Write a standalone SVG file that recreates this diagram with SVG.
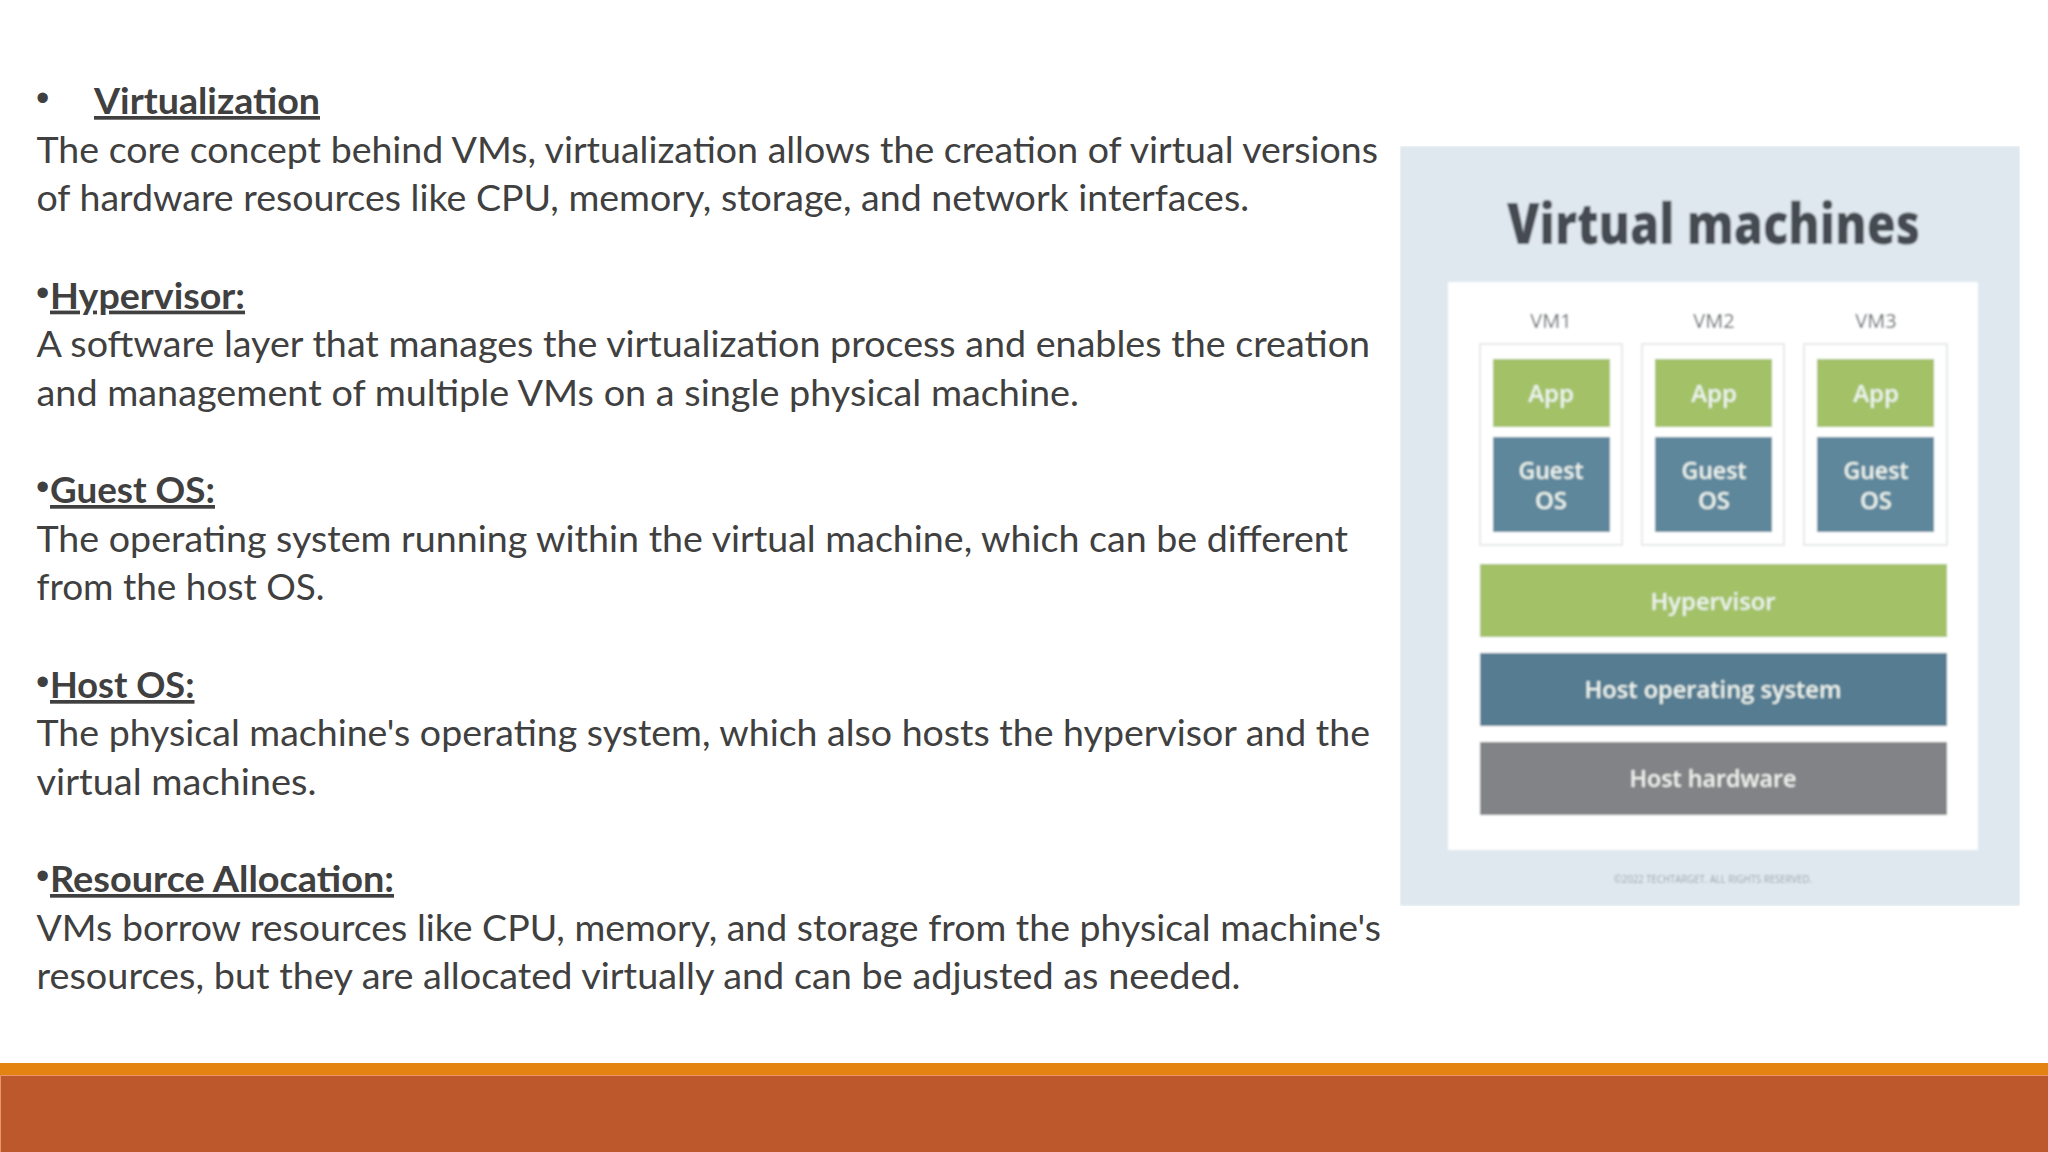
<svg xmlns="http://www.w3.org/2000/svg" width="2048" height="1152" viewBox="0 0 2048 1152">
<style>
.t{font-family:Lato,"Liberation Sans",sans-serif;font-size:37px;fill:#404040}
.h{font-weight:700;text-decoration:underline}
.b{font-family:"Liberation Sans",sans-serif;font-size:38px;fill:#404040}
.p{font-family:"Open Sans","Liberation Sans",sans-serif;text-anchor:middle}
.w{font-size:24px;font-weight:600;fill:#eef4ee}
.v{font-size:20px;fill:#5c6165}
.vm{fill:#fff;stroke:#e6e9ea;stroke-width:2}
.g{fill:#a3c267}.s{fill:#5e879c}
</style>
<defs><filter id="soft" x="0" y="0" width="1" height="1"><feGaussianBlur stdDeviation="0.8"/></filter></defs>
<rect width="2048" height="1152" fill="#fff"/>
<g id="body-text">
<text class="b" x="36" y="111">•</text>
<text class="t h" x="94" y="114" textLength="226" lengthAdjust="spacingAndGlyphs">Virtualization</text>
<text class="t" x="36.500" y="162.600" textLength="1341.500" lengthAdjust="spacingAndGlyphs">The core concept behind VMs, virtualization allows the creation of virtual versions</text>
<text class="t" x="36.500" y="211" textLength="1212.500" lengthAdjust="spacingAndGlyphs">of hardware resources like CPU, memory, storage, and network interfaces.</text>
<text class="b" x="36" y="306">•</text>
<text class="t h" x="50" y="308.600" textLength="195" lengthAdjust="spacingAndGlyphs">Hypervisor:</text>
<text class="t" x="36.500" y="357" textLength="1333.500" lengthAdjust="spacingAndGlyphs">A software layer that manages the virtualization process and enables the creation</text>
<text class="t" x="36.500" y="405.500" textLength="1042.500" lengthAdjust="spacingAndGlyphs">and management of multiple VMs on a single physical machine.</text>
<text class="b" x="36" y="500">•</text>
<text class="t h" x="50" y="503" textLength="165" lengthAdjust="spacingAndGlyphs">Guest OS:</text>
<text class="t" x="36.500" y="551.500" textLength="1311.500" lengthAdjust="spacingAndGlyphs">The operating system running within the virtual machine, which can be different</text>
<text class="t" x="36.500" y="600" textLength="288" lengthAdjust="spacingAndGlyphs">from the host OS.</text>
<text class="b" x="36" y="695">•</text>
<text class="t h" x="50" y="698" textLength="144.500" lengthAdjust="spacingAndGlyphs">Host OS:</text>
<text class="t" x="36.500" y="746" textLength="1333.500" lengthAdjust="spacingAndGlyphs">The physical machine's operating system, which also hosts the hypervisor and the</text>
<text class="t" x="36.500" y="795" textLength="280" lengthAdjust="spacingAndGlyphs">virtual machines.</text>
<text class="b" x="36" y="889">•</text>
<text class="t h" x="50" y="892" textLength="344" lengthAdjust="spacingAndGlyphs">Resource Allocation:</text>
<text class="t" x="36.500" y="941" textLength="1344.500" lengthAdjust="spacingAndGlyphs">VMs borrow resources like CPU, memory, and storage from the physical machine's</text>
<text class="t" x="36.500" y="989" textLength="1204" lengthAdjust="spacingAndGlyphs">resources, but they are allocated virtually and can be adjusted as needed.</text>
</g>
<g id="vm-picture" filter="url(#soft)">
<rect x="1400" y="146" width="620" height="760" fill="#dfe8ef"/>
<text class="p" x="1713.500" y="244" font-size="56" font-weight="800" fill="#454b51" textLength="413" lengthAdjust="spacingAndGlyphs">Virtual machines</text>
<rect x="1448" y="282" width="530" height="568" fill="#fff"/>
<g id="vm1">
<text class="p v" x="1551" y="328">VM1</text>
<rect class="vm" x="1480" y="344" width="142" height="201"/>
<rect class="g" x="1493" y="359" width="117" height="68"/>
<text class="p w" x="1551" y="402">App</text>
<rect class="s" x="1493" y="437" width="117" height="95"/>
<text class="p w" x="1551" y="479" textLength="65" lengthAdjust="spacingAndGlyphs">Guest</text>
<text class="p w" x="1551" y="509">OS</text>
</g>
<g id="vm2">
<text class="p v" x="1714" y="328">VM2</text>
<rect class="vm" x="1642" y="344" width="142" height="201"/>
<rect class="g" x="1655" y="359" width="117" height="68"/>
<text class="p w" x="1714" y="402">App</text>
<rect class="s" x="1655" y="437" width="117" height="95"/>
<text class="p w" x="1714" y="479" textLength="65" lengthAdjust="spacingAndGlyphs">Guest</text>
<text class="p w" x="1714" y="509">OS</text>
</g>
<g id="vm3">
<text class="p v" x="1876" y="328">VM3</text>
<rect class="vm" x="1804" y="344" width="143" height="201"/>
<rect class="g" x="1817" y="359" width="117" height="68"/>
<text class="p w" x="1876" y="402">App</text>
<rect class="s" x="1817" y="437" width="117" height="95"/>
<text class="p w" x="1876" y="479" textLength="65" lengthAdjust="spacingAndGlyphs">Guest</text>
<text class="p w" x="1876" y="509">OS</text>
</g>
<g id="hypervisor">
<rect class="g" x="1480" y="564" width="467" height="73"/>
<text class="p w" x="1713" y="610" textLength="125" lengthAdjust="spacingAndGlyphs">Hypervisor</text>
</g>
<g id="host-os">
<rect x="1480" y="653" width="467" height="73" fill="#557b91"/>
<text class="p w" x="1713" y="698" textLength="257" lengthAdjust="spacingAndGlyphs">Host operating system</text>
</g>
<g id="host-hardware">
<rect x="1480" y="742" width="467" height="73" fill="#828386"/>
<text class="p w" x="1713" y="787" textLength="167" lengthAdjust="spacingAndGlyphs">Host hardware</text>
</g>
<text class="p" x="1713" y="883" font-size="10" fill="#9aa3aa" textLength="198" lengthAdjust="spacingAndGlyphs">©2022 TECHTARGET. ALL RIGHTS RESERVED.</text>
</g>
<g id="footer">
<rect x="0" y="1063" width="2048" height="12" fill="#e48312"/>
<rect x="0" y="1075" width="2048" height="77" fill="#bd582c"/>
<path d="M0.500 1152V1075.500H2048" fill="none" stroke="#e9966a" stroke-width="1"/>
</g>
</svg>
